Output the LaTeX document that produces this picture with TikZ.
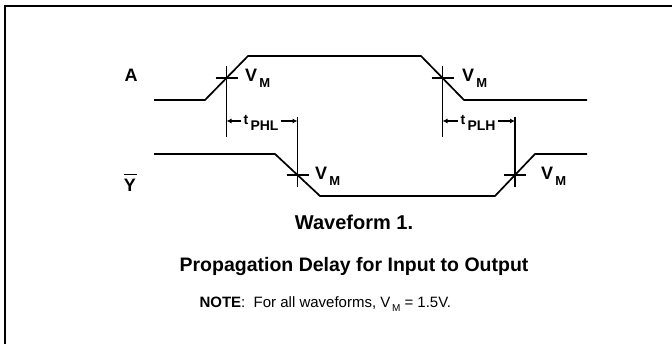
\documentclass[tikz,border=0pt]{standalone}
\usepackage{fontspec}
\setmainfont{Liberation Sans}
\usetikzlibrary{arrows.meta}

\tikzset{
  wave/.style={line width=1.7pt},
  mark line/.style={line width=1.5pt},
  delay/.style={-{Latex[length=5pt,width=5pt]}, line width=1.2pt},
  sig/.style={font=\bfseries\fontsize{18}{18}\selectfont, inner sep=0pt},
  vmtext/.style={font=\bfseries\fontsize{18}{18}\selectfont, inner sep=0pt, anchor=west},
  tlabel/.style={font=\bfseries\fontsize{14}{14}\selectfont, inner sep=2pt},
}
\newcommand{\vmsub}{V\raisebox{-6pt}{\fontsize{13}{13}\selectfont\,M}}

\begin{document}
\begin{tikzpicture}[x=1pt, y=-1pt]
        \useasboundingbox (0,0) rectangle (672,344);
        % frame
        \draw[line width=1.8pt] (5,344) -- (5,6) -- (672,6);

        % input A and output Y
        \draw[wave] (154,100) -- (205,100) -- (248,56) -- (421,56) -- (464,100) -- (587,100);
        \draw[wave] (154,154) -- (275,154) -- (320,196) -- (495,196) -- (535,154) -- (587,154);
        \node[sig] (nA) at (131,75) {A};
        \node[sig] (nY) at (130,185) {Y};
        \draw[line width=1.6pt] (nY.north west) ++(0,-4) -- ++(13,0);

        % V_M crossings
        \coordinate (c1) at (226.5,78);
        \coordinate (c2) at (297.5,175);
        \coordinate (c3) at (442.5,78);
        \coordinate (c4) at (515,175);
        \foreach \c in {c1, c2, c3, c4} {
            \draw[mark line] (\c) ++(-11,0) -- ++(22,0);
        }
        \draw[mark line] (226.5,66) -- (226.5,137);
        \draw[mark line] (442.5,66) -- (442.5,137);
        \draw[mark line] (297.5,117) -- (297.5,187);
        \draw[mark line] (515,117) -- (515,187);

        \node[vmtext] (v1) at (245,78) {\vmsub};
        \node[vmtext] (v2) at (315,176) {\vmsub};
        \node[vmtext] (v3) at (462,78) {\vmsub};
        \node[vmtext] (v4) at (541,176) {\vmsub};

        % delays
        \node[tlabel] (phl) at (261,123) {t\,\raisebox{-6pt}{PHL}};
        \node[tlabel] (plh) at (478,123) {t\,\raisebox{-6pt}{PLH}};
        \coordinate (l1) at (226.5,121);
        \coordinate (r1) at (297.5,121);
        \coordinate (l3) at (442.5,121);
        \coordinate (r3) at (515,121);
        \draw[delay] (phl.west |- l1) -- (l1);
        \draw[delay] (phl.east |- r1) -- (r1);
        \draw[delay] (plh.west |- l3) -- (l3);
        \draw[delay] (plh.east |- r3) -- (r3);

        % captions
        \node[font=\bfseries\fontsize{20}{20}\selectfont] (cap) at (354,222) {Waveform 1.};
        \node[font=\bfseries\fontsize{19.5}{20}\selectfont] (title) at (354,267) {Propagation Delay for Input to Output};
        \node[font=\fontsize{15}{15}\selectfont, anchor=west] (note) at (196,304)
            {\textbf{NOTE}:\ \ For all waveforms, V\raisebox{-4pt}{\fontsize{10}{10}\selectfont\,M} = 1.5V.};
    \end{tikzpicture}
\end{document}
